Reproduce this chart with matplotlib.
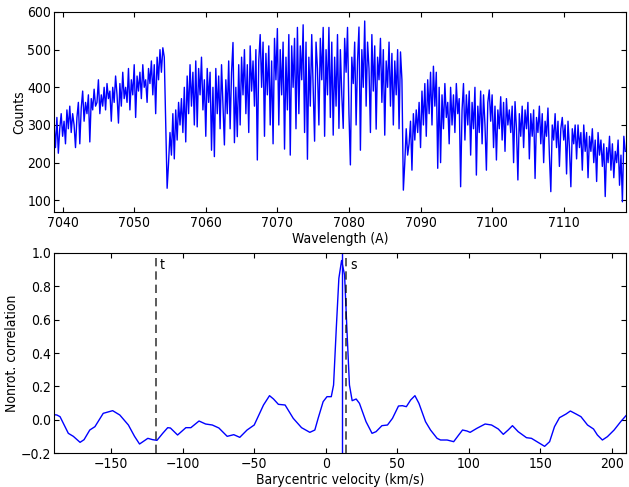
#!/usr/bin/env python3
"""
Spectrum and cross-correlation figure.
"""

import numpy as np
import matplotlib
matplotlib.use("Agg")
import matplotlib.pyplot as plt
from matplotlib import font_manager

# Spectrum: counts sampled every 0.2 A starting at 7038.8 A
wave_start = 7038.8
wave_step = 0.2
counts = [
    300, 240, 320, 225, 290,
    330, 270, 310, 250, 340,
    290, 350, 280, 330, 300,
    240, 320, 360, 250, 345,
    390, 310, 360, 330, 380,
    255, 370, 340, 395, 350,
    360, 420, 330, 380, 350,
    400, 340, 410, 370, 390,
    310, 400, 360, 430, 380,
    305, 410, 350, 440, 370,
    400, 360, 450, 340, 420,
    380, 460, 320, 430, 390,
    440, 370, 460, 400, 420,
    360, 450, 410, 470, 380,
    460, 330, 480, 420, 500,
    440, 505, 480, 300, 132,
    200, 280, 220, 330, 210,
    340, 260, 360, 300, 370,
    280, 400, 255, 430, 330,
    460, 350, 440, 300, 470,
    295, 450, 380, 480, 340,
    420, 270, 450, 360, 440,
    233, 400, 216, 450, 330,
    430, 290, 460, 350, 247,
    420, 330, 470, 290, 440,
    519, 253, 400, 269, 460,
    300, 480, 380, 500, 330,
    460, 280, 510, 390, 470,
    350, 500, 207, 470, 540,
    400, 520, 270, 490, 380,
    510, 300, 470, 250, 530,
    420, 556, 300, 500, 380,
    520, 236, 480, 340, 540,
    220, 510, 400, 530, 290,
    559, 330, 510, 420, 566,
    280, 520, 209, 480, 350,
    540, 400, 257, 520, 450,
    300, 530, 420, 559, 270,
    500, 380, 559, 320, 520,
    273, 480, 350, 540, 291,
    500, 380, 291, 530, 440,
    559, 330, 194, 480, 410,
    520, 300, 470, 560, 233,
    500, 400, 576, 350, 520,
    450, 280, 540, 390, 510,
    289, 480, 420, 530, 360,
    500, 273, 470, 400, 520,
    350, 490, 300, 470, 380,
    500, 290, 494, 420, 127,
    200, 290, 220, 250, 310,
    180, 330, 260, 340, 280,
    360, 240, 390, 300, 410,
    270, 420, 330, 440, 300,
    456, 350, 440, 185, 400,
    200, 380, 290, 410, 320,
    360, 250, 400, 300, 380,
    280, 410, 330, 370, 136,
    340, 410, 260, 380, 300,
    390, 220, 360, 290, 400,
    167, 350, 280, 390, 250,
    380, 300, 180, 360, 393,
    310, 380, 240, 350, 207,
    340, 290, 375, 260, 360,
    230, 370, 300, 340, 280,
    350, 200, 362, 290, 154,
    330, 270, 350, 240, 340,
    290, 360, 210, 330, 270,
    340, 158, 320, 280, 350,
    250, 330, 200, 310, 270,
    345, 220, 123, 300, 260,
    330, 240, 310, 190, 290,
    320, 260, 300, 170, 310,
    240, 136, 290, 250, 300,
    210, 300, 240, 280, 180,
    300, 230, 280, 160, 270,
    230, 290, 200, 260, 150,
    280, 220, 260, 190, 250,
    110, 240, 200, 270, 180,
    250, 160, 230, 200, 260,
    140, 220, 96, 270, 230,
]
wavelength = wave_start + wave_step * np.arange(len(counts))

# Cross-correlation against barycentric velocity
velocity = [
    -190, -188, -185.8, -180, -176.5, -171.8, -169, -165, -161.4, -155.6,
    -149, -144, -138, -133.7, -130.2, -124.4, -121, -118, -114, -110.5,
    -108.6, -103.6, -97.8, -94.3, -88.6, -84, -79.3, -74.7, -68.9, -64.3,
    -60.1, -55, -50, -43.5, -39.3, -36.5, -33.1, -28.4, -22.7, -16.9,
    -11.1, -7.6, -5.3, -1.8, 0.9, 3.9, 5.5, 7.4, 9.2, 11.1,
    13.2, 14.8, 16.6, 18.5, 21.3, 23.6, 28.2, 32.4, 35.2, 39.3,
    43.2, 46.7, 50.9, 53.6, 56.4, 59.4, 62.4, 65.2, 69.8, 73.3,
    77.9, 80.3, 84.9, 89.5, 93, 95.7, 98.8, 101, 105.7, 111.5,
    116, 120.7, 124.2, 127.6, 130.6, 134.6, 140.4, 143.9, 148.5, 153.1,
    156.6, 160, 163.5, 168.1, 171.1, 175.1, 178.5, 183.1, 187.3, 190,
    193.5, 197, 201.7, 206.3, 210,
]
correlation = [
    0.03, 0.028, 0.018, -0.082, -0.10, -0.136, -0.12, -0.062, -0.042, 0.038,
    0.054, 0.028, -0.032, -0.10, -0.146, -0.112, -0.12, -0.124, -0.082, -0.048,
    -0.05, -0.092, -0.048, -0.048, -0.008, -0.026, -0.032, -0.05, -0.10, -0.09,
    -0.106, -0.062, -0.032, 0.088, 0.144, 0.124, 0.092, 0.088, 0.008, -0.048,
    -0.076, -0.062, 0.008, 0.108, 0.138, 0.138, 0.208, 0.548, 0.848, 0.955,
    0.868, 0.548, 0.208, 0.114, 0.124, 0.098, -0.012, -0.082, -0.072, -0.036,
    -0.032, 0.008, 0.082, 0.084, 0.078, 0.118, 0.144, 0.098, -0.012, -0.062,
    -0.112, -0.122, -0.122, -0.132, -0.092, -0.062, -0.068, -0.076, -0.052, -0.026,
    -0.032, -0.056, -0.088, -0.062, -0.036, -0.072, -0.108, -0.112, -0.136, -0.16,
    -0.132, -0.042, 0.012, 0.034, 0.052, 0.034, 0.018, -0.032, -0.056, -0.092,
    -0.122, -0.102, -0.062, -0.012, 0.024,
]

# Best-fit peak and the two reference velocities
peak_velocity = 11.1
marker_velocities = [-119, 14.5]
marker_labels = ["t", "s"]

# narrower text like the reference, if a condensed face is installed
names = {f.name for f in font_manager.fontManager.ttflist}
if "DejaVu Sans Condensed" in names:
    plt.rcParams["font.family"] = "DejaVu Sans Condensed"
plt.rcParams["font.stretch"] = "condensed"
plt.rcParams["font.size"] = 10
plt.rcParams["xtick.direction"] = "in"
plt.rcParams["ytick.direction"] = "in"
plt.rcParams["xtick.top"] = True
plt.rcParams["ytick.right"] = True
plt.rcParams["xtick.major.pad"] = 3
plt.rcParams["ytick.major.pad"] = 2

fig = plt.figure(figsize=(6.29, 4.87), dpi=100)
ax1 = fig.add_axes([0.0859, 0.5647, 0.9093, 0.4107])
ax2 = fig.add_axes([0.0859, 0.0698, 0.9093, 0.4107])

# Spectrum
ax1.plot(wavelength, counts, color="b", lw=1)
ax1.set_xlim(7038.8, 7118.7)
ax1.set_ylim(69, 600)
ax1.set_xticks(np.arange(7040, 7111, 10))
ax1.set_yticks(np.arange(100, 601, 100))
ax1.set_xlabel("Wavelength (A)", labelpad=1)
ax1.set_ylabel("Counts", labelpad=1)

# Correlation
ax2.plot(velocity, correlation, color="b", lw=1)
ax2.axvline(peak_velocity, color="b", lw=1)
for v, lab in zip(marker_velocities, marker_labels):
    ax2.plot([v, v], [-0.2, 0.97], color="k", ls=(0, (5, 3)), lw=1.2, alpha=0.75)
    ax2.text(v + 3, 0.93, lab, ha="left", va="center")
ax2.set_xlim(-190, 210)
ax2.set_ylim(-0.2, 1.0)
ax2.set_xticks(np.arange(-150, 201, 50))
ax2.set_yticks(np.arange(-0.2, 1.01, 0.2))
ax2.set_xlabel("Barycentric velocity (km/s)", labelpad=1)
ax2.set_ylabel("Nonrot. correlation", labelpad=1)

fig.savefig("out.png", dpi=100)
